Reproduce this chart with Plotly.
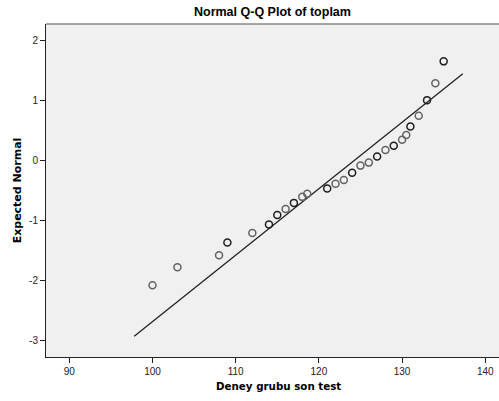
import plotly.graph_objects as go

# Observed values (x) and expected normal values (y)
observed = [100, 103, 108, 109, 112, 114, 115, 116, 117, 118, 118.6, 121, 122, 123,
            124, 125, 126, 127, 128, 129, 130, 130.5, 131, 132, 133, 134, 135]
expected = [-2.08, -1.78, -1.58, -1.37, -1.21, -1.07, -0.91, -0.81, -0.71, -0.61, -0.56,
            -0.47, -0.39, -0.33, -0.21, -0.09, -0.04, 0.06, 0.17, 0.24, 0.34, 0.42,
            0.56, 0.74, 1.0, 1.28, 1.645]
tied = [1, 1, 1, 2, 1, 2, 2, 1, 2, 1, 1, 2, 1, 1, 2, 1, 1, 2, 1, 2, 1, 1, 2, 1, 2, 1, 2]

line_x = [97.8, 137.3]
line_y = [-2.93, 1.44]

x_ticks = [90, 100, 110, 120, 130, 140]
y_ticks = [-3, -2, -1, 0, 1, 2]
y_tick_text = ["-3", "-2", "-1", "0", "1", "2"]

colors = ["#1e1e1e" if t > 1 else "#646464" for t in tied]

fig = go.Figure()
fig.add_trace(go.Scatter(x=line_x, y=line_y, mode="lines",
                         line=dict(color="#222222", width=1.3), hoverinfo="skip"))
fig.add_trace(go.Scatter(x=observed, y=expected, mode="markers",
                         marker=dict(symbol="circle-open", size=7,
                                     color=colors, line=dict(width=1.5, color=colors))))

fig.update_layout(
    width=499, height=401,
    margin=dict(l=46, r=0, t=24, b=44, autoexpand=False),
    paper_bgcolor="white", plot_bgcolor="#f0f0f0",
    showlegend=False,
    title=dict(text="<b>Normal Q-Q Plot of toplam</b>", x=0.546, xanchor="center",
               y=0.97, yanchor="middle",
               font=dict(family="Liberation Sans, Arial", size=12.5, color="#000")),
    font=dict(family="Liberation Sans, Arial", size=10, color="#222"),
)
fig.update_xaxes(range=[87.2, 141.65], tickvals=x_ticks, showgrid=False, zeroline=False,
                 ticks="outside", ticklen=5, tickcolor="#222", showline=True,
                 linecolor="#222", linewidth=1)
fig.update_yaxes(range=[-3.275, 2.267], tickvals=y_ticks, ticktext=y_tick_text,
                 showgrid=False, zeroline=False,
                 ticks="outside", ticklen=5, tickcolor="#222", showline=True,
                 linecolor="#222", linewidth=1,
                 title=dict(text="<b>Expected Normal</b>", standoff=5,
                            font=dict(family="DejaVu Sans", size=11, color="#000")))
fig.add_annotation(text="<b>Deney grubu son test</b>", xref="paper", yref="paper",
                   x=0.514, y=-0.088, xanchor="center", yanchor="middle", showarrow=False,
                   font=dict(family="DejaVu Sans", size=10.3, color="#000"))
fig.add_shape(type="line", xref="paper", yref="paper", x0=0, x1=1, y0=1, y1=1,
              line=dict(color="#888888", width=1.5))

fig.write_html("out.html", config={"displayModeBar": False},
               post_script="document.body.style.margin='0';")
